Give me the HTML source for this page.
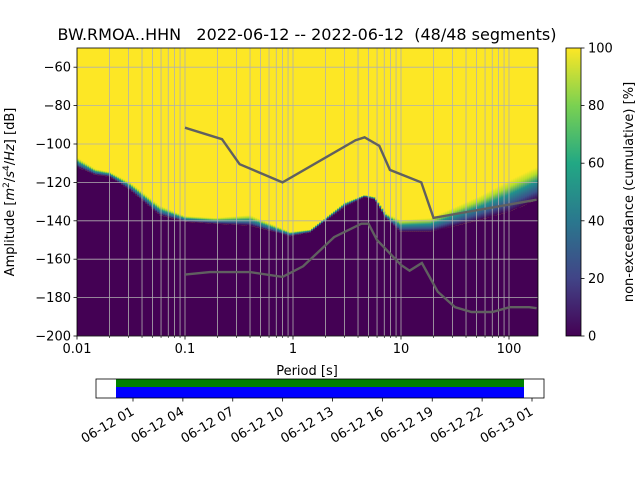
<!DOCTYPE html>
<html><head><meta charset="utf-8"><style>
body{margin:0;background:#fff;width:640px;height:480px;overflow:hidden}
svg text{font-family:"DejaVu Sans","Liberation Sans",sans-serif;fill:#000}
</style></head><body>
<svg id="chart" width="640" height="480" xmlns="http://www.w3.org/2000/svg">
<defs>
<linearGradient id="trans" x1="0" y1="0" x2="0" y2="1">
<stop offset="0" stop-color="#fde725"/><stop offset="0.2" stop-color="#b5de2b"/><stop offset="0.45" stop-color="#21918c"/><stop offset="0.75" stop-color="#3b528b"/><stop offset="1" stop-color="#440154"/></linearGradient>
<linearGradient id="viridis" x1="0" y1="1" x2="0" y2="0">
<stop offset="0" stop-color="#440154"/><stop offset="0.2" stop-color="#414487"/><stop offset="0.4" stop-color="#2a788e"/><stop offset="0.6" stop-color="#22a884"/><stop offset="0.8" stop-color="#7ad151"/><stop offset="1" stop-color="#fde725"/></linearGradient>
<clipPath id="clip"><rect x="77" y="48" width="461" height="288"/></clipPath>
</defs>
<text x="307" y="40" font-size="16" text-anchor="middle" style="white-space:pre" xml:space="preserve">BW.RMOA..HHN   2022-06-12 -- 2022-06-12  (48/48 segments)</text>
<g id="plot" clip-path="url(#clip)"></g>
<g id="axes"></g>
<rect x="566" y="48" width="15" height="288" fill="url(#viridis)"/>
<rect x="566" y="48" width="15" height="288" fill="none" stroke="#000" stroke-width="0.8"/>
<g id="cbticks"></g>
<text transform="translate(633,192) rotate(-90)" font-size="13" text-anchor="middle">non-exceedance (cumulative) [%]</text>
<text transform="translate(14,192) rotate(-90)" font-size="13" text-anchor="middle">Amplitude [<tspan font-style="italic">m</tspan><tspan baseline-shift="super" font-size="9">2</tspan>/<tspan font-style="italic">s</tspan><tspan baseline-shift="super" font-size="9">4</tspan>/<tspan font-style="italic">Hz</tspan>] [dB]</text>
<text x="307" y="375" font-size="13" text-anchor="middle">Period [s]</text>
<g id="timeline">
<rect x="116" y="379" width="408" height="8" fill="#008000"/>
<rect x="116" y="387" width="408" height="11" fill="#0000ff"/>
<rect x="96" y="379" width="448" height="19" fill="none" stroke="#000" stroke-width="0.8"/>
</g>
</svg>
<script>
const periodsImg=[0.01,0.0147,0.02,0.031,0.058,0.1,0.19,0.4,0.94,1.44,3,4.6,5.7,7.2,9.8,18.8,54,104,180];
const yellowBottom=[-107,-113,-114.5,-120,-132,-137.5,-138.5,-137,-145.7,-144.6,-130.5,-126.5,-127.5,-136,-139.5,-138.5,-127,-118.5,-112];
const purpleTop=[-112,-116,-117,-124,-137,-140.5,-141.5,-142.5,-148,-146,-132.7,-127.5,-129,-138.5,-145.7,-145.7,-139.5,-135,-129];
const nhnmP=[0.1,0.22,0.32,0.8,3.8,4.6,6.3,7.9,15.4,20,180];
const nhnmV=[-91.5,-97.5,-110.5,-120,-98,-96.5,-101,-113.5,-120,-138.5,-129];
const nlnmP=[0.1,0.17,0.4,0.8,1.24,2.4,4.3,5,6,10,12,15.6,21.9,31.6,45,70,101,154,180];
const nlnmV=[-168,-166.7,-166.7,-169.2,-163.7,-148.5,-141.5,-141.5,-150,-163,-166,-162,-177,-185,-187.5,-187.5,-185,-185,-185.5];
const yTicks=[-60,-80,-100,-120,-140,-160,-180,-200];
const xTickLabels=["0.01","0.1","1","10","100"];
const cbTicks=[0,20,40,60,80,100];
const timeLabels=["06-12 01","06-12 04","06-12 07","06-12 10","06-12 13","06-12 16","06-12 19","06-12 22","06-13 01"];
const timeHours=[1,4,7,10,13,16,19,22,25];

const NS="http://www.w3.org/2000/svg";
const X0=77,X1=538,Y0=48,Y1=336;
const xs=p=>X0+(Math.log10(p)+2)*108;
const ys=v=>Y1-(v+200)*(Y1-Y0)/150;
const ts=h=>133+(h-1)*(532-133)/24;
function mk(tag,attrs,parent){const e=document.createElementNS(NS,tag);for(const k in attrs)e.setAttribute(k,attrs[k]);parent.appendChild(e);return e;}
const plot=document.getElementById('plot'),axes=document.getElementById('axes');
let bg=mk('rect',{x:X0,y:Y0,width:X1-X0,height:Y1-Y0,fill:'#fde725'},plot);


function interp(arrP,arrV,p){const l=Math.log10(p);for(let i=0;i<arrP.length-1;i++){const a=Math.log10(arrP[i]),b=Math.log10(arrP[i+1]);if(l>=a&&l<=b){return arrV[i]+(arrV[i+1]-arrV[i])*(l-a)/(b-a);}}return l<Math.log10(arrP[0])?arrV[0]:arrV[arrV.length-1];}
const step=2;
for(let x=X0;x<X1;x+=step){
  const p=Math.pow(10,(x+step/2-X0)/108-2);
  const yb=ys(interp(periodsImg,yellowBottom,p)),pt=ys(interp(periodsImg,purpleTop,p));
  const t=mk('rect',{x:x,y:yb,width:step+0.3,height:Math.max(pt-yb,0.1),fill:'url(#trans)'},plot);
  
  
  const r=mk('rect',{x:x,y:pt,width:step+0.3,height:Y1-pt,fill:'#440154'},plot);
  
  
}
for(let d=-2;d<=2;d++)for(let m=1;m<=9;m++){const p=m*Math.pow(10,d);const x=xs(p);if(x<=X0||x>=X1)continue;
  const g=mk('line',{x1:x,x2:x,y1:Y0,y2:Y1,stroke:'#b0b0b0','stroke-width':0.8},plot);
  
  }
yTicks.forEach(v=>{const y=ys(v);
  const g=mk('line',{x1:X0,x2:X1,y1:y,y2:y,stroke:'#b0b0b0','stroke-width':0.8},plot);
  
  
  mk('line',{x1:X0-3.5,x2:X0,y1:y,y2:y,stroke:'#000','stroke-width':0.8},axes);
  const t=mk('text',{x:X0-6,y:y+4.5,'font-size':13,'text-anchor':'end'},axes);t.textContent=String(v).replace('-','\u2212');
  
  });
function line(P,V,name){const d=P.map((p,i)=>(i?'L':'M')+xs(p).toFixed(1)+','+ys(V[i]).toFixed(1)).join('');
  const e=mk('path',{d:d,fill:'none',stroke:'#606060','stroke-width':2.4},plot);
  
  }
line(nhnmP,nhnmV,'nhnm-line');line(nlnmP,nlnmV,'nlnm-line');
xTickLabels.forEach((s,i)=>{const x=xs(parseFloat(s));
  mk('line',{x1:x,x2:x,y1:Y1,y2:Y1+3.5,stroke:'#000','stroke-width':0.8},axes);
  const t=mk('text',{x:x,y:Y1+17,'font-size':13,'text-anchor':'middle'},axes);t.textContent=s;
  
  });
for(let d=-2;d<=2;d++)for(let m=2;m<=9;m++){const x=xs(m*Math.pow(10,d));if(x>X1)continue;mk('line',{x1:x,x2:x,y1:Y1,y2:Y1+2,stroke:'#000','stroke-width':0.6},axes);}
mk('rect',{x:X0,y:Y0,width:X1-X0,height:Y1-Y0,fill:'none',stroke:'#000','stroke-width':0.8},axes);
const cb=document.getElementById('cbticks');
cbTicks.forEach(v=>{const y=336-v*2.88;mk('line',{x1:581,x2:584.5,y1:y,y2:y,stroke:'#000','stroke-width':0.8},cb);
  const t=mk('text',{x:588,y:y+4.5,'font-size':13},cb);t.textContent=v;
  
  });
const tl=document.getElementById('timeline');
timeLabels.forEach((s,i)=>{const x=ts(timeHours[i]);
  mk('line',{x1:x,x2:x,y1:398,y2:401.5,stroke:'#000','stroke-width':0.8},tl);
  const t=mk('text',{transform:`translate(${x+2},${414}) rotate(-30)`,'font-size':13,'text-anchor':'end'},tl);t.textContent=s;
  
  });
</script>
</body></html>
